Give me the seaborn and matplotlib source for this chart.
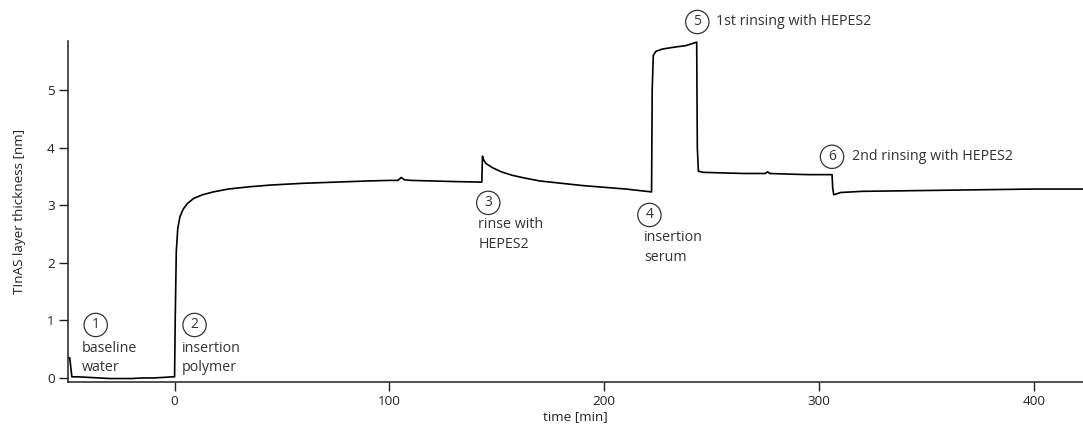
import matplotlib
matplotlib.use("Agg")
import matplotlib.pyplot as plt
import seaborn as sns
import pandas as pd

# ---- data ----
time_min = [-49.3, -48.8, -47.8, -45, -40, -35, -30, -25, -20, -15, -10, -5, -1, 0.0,
            0.3, 0.8, 1.5, 2.5, 4, 6, 9, 13, 18, 25, 35, 45, 60, 75, 90, 100, 104,
            105.5, 107, 110, 120, 130, 143.0, 143.3, 143.8, 145, 148, 152, 157, 163,
            170, 180, 190, 200, 210, 222.0, 222.3, 222.8, 224, 227, 232, 238, 243.0,
            243.3, 243.8, 246, 255, 265, 275, 276, 277, 285, 295, 306.0, 306.3, 306.8,
            310, 320, 340, 360, 380, 400, 423]
thickness_nm = [0.35, 0.35, 0.02, 0.02, 0.01, 0.0, -0.01, -0.01, -0.01, 0.0, 0.0, 0.01, 0.02, 0.02,
                1.0, 2.2, 2.6, 2.8, 2.93, 3.03, 3.12, 3.18, 3.23, 3.28, 3.32, 3.35, 3.38, 3.40, 3.42, 3.43, 3.43,
                3.48, 3.44, 3.43, 3.42, 3.41, 3.40, 3.85, 3.79, 3.72, 3.65, 3.58, 3.52, 3.47,
                3.42, 3.38, 3.34, 3.31, 3.28, 3.23, 5.0, 5.6, 5.67, 5.71, 5.74, 5.77, 5.83,
                4.0, 3.59, 3.57, 3.56, 3.55, 3.55, 3.58, 3.55, 3.54, 3.53, 3.53, 3.30, 3.18,
                3.22, 3.24, 3.25, 3.26, 3.27, 3.28, 3.28]

x_ticks = [0, 100, 200, 300, 400]
y_ticks = [0, 1, 2, 3, 4, 5]

# annotations
ann_numbers = ["1", "2", "3", "4", "5", "6"]
ann_circle_t = [-36.7, 9.3, 146.0, 221.0, 243.3, 306.0]
ann_circle_y = [0.92, 0.92, 3.04, 2.83, 6.18, 3.84]
ann_texts = [["baseline", "water"], ["insertion", "polymer"], ["rinse with", "HEPES2"],
             ["insertion", "serum"], ["1st rinsing with HEPES2"], ["2nd rinsing with HEPES2"]]
ann_text_t = [-43.3, 3.3, 141.4, 218.6, 252.0, 315.3]
ann_text_y = [[0.52, 0.19], [0.52, 0.19], [2.66, 2.31], [2.43, 2.10], [6.18], [3.84]]

df = pd.DataFrame({"time": time_min, "thick": thickness_nm})

sns.set_style("ticks")
plt.rcParams["font.family"] = ["Open Sans", "DejaVu Sans"]

fig = plt.figure(figsize=(10.83, 4.28), dpi=100)
ax = fig.add_axes([68 / 1083, 1 - 382 / 428, 1 - 68 / 1083, (382 - 41) / 428])

sns.lineplot(data=df, x="time", y="thick", sort=False, color="black", linewidth=1.2, ax=ax,
             estimator=None)

ax.set_xlim(-49.6, 422.8)
ax.set_ylim(-0.07, 5.85)
ax.set_xticks(x_ticks)
ax.set_yticks(y_ticks)
ax.tick_params(axis="both", direction="out", length=6.5, width=1, colors="#222222",
               labelsize=9.7, labelcolor="#222222", pad=3)
sns.despine(ax=ax)
for s in ["left", "bottom"]:
    ax.spines[s].set_linewidth(1.1)
    ax.spines[s].set_color("#222222")

ax.set_xlabel("time [min]", fontsize=9.7, color="#222222", labelpad=1)
ax.set_ylabel("TInAS layer thickness [nm]", fontsize=9.7, color="#222222", labelpad=15)

tcol = "#333333"
for num, ct, cy, lines, tt, tys in zip(ann_numbers, ann_circle_t, ann_circle_y,
                                        ann_texts, ann_text_t, ann_text_y):
    ax.text(ct, cy, num, ha="center", va="center", fontsize=10, color=tcol, clip_on=False,
            bbox=dict(boxstyle="circle,pad=0.3", fc="white", ec=tcol, lw=0.9))
    for line, ty in zip(lines, tys):
        ax.text(tt, ty, line, ha="left", va="center", fontsize=10.3, color=tcol, clip_on=False)

fig.savefig("out.png", dpi=100)
